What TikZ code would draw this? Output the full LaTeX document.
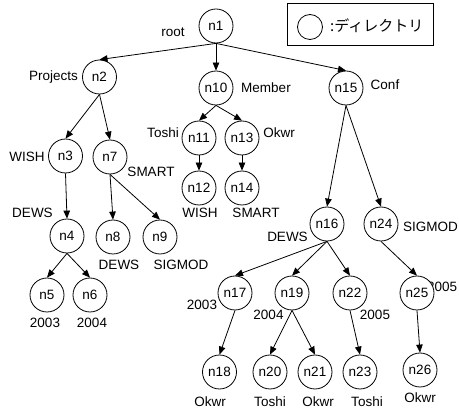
\documentclass[tikz,border=0pt]{standalone}
\usepackage{fontspec}
\setmainfont{Liberation Sans}
\newfontfamily\jpfont{Noto Sans CJK JP}
\usetikzlibrary{arrows.meta}
\begin{document}
\begin{tikzpicture}[x=1pt,y=-1pt,
  dirnode/.style={circle,draw,line width=0.8pt,fill=white,minimum size=34pt,inner sep=0pt,
    font=\fontsize{13.5}{15}\selectfont},
  lbl/.style={inner sep=0pt,font=\fontsize{13.5}{15}\selectfont},
  link/.style={line width=0.8pt,-{Triangle[length=8pt,width=6.5pt]}}]
\useasboundingbox (0,0) rectangle (459,414);

% legend
\node[draw,line width=0.8pt,minimum width=146pt,minimum height=42pt,inner sep=0pt] (legend) at (360.5,24) {};
\node[circle,draw,line width=0.8pt,minimum size=25pt,inner sep=0pt] (legcirc) at (310,27) {};
\node[anchor=west,inner sep=0pt,font=\jpfont\fontsize{15}{17}\selectfont] (legtext) at (330,26) {:ディレクトリ};

% edge labels (placed first so the circles sit on top)
\node[lbl] (l1) at (173,32) {root};
\node[lbl,anchor=east] (l2) at (78,77) {Projects};
\node[lbl] (l10) at (266,88) {Member};
\node[lbl] (l15) at (385,85) {Conf};
\node[lbl] (l11) at (163,133) {Toshi};
\node[lbl] (l13) at (279,133) {Okwr};
\node[lbl] (l3) at (27,157) {WISH};
\node[lbl] (l7) at (151,172) {SMART};
\node[lbl] (l12) at (200,213) {WISH};
\node[lbl] (l14) at (256,213) {SMART};
\node[lbl] (l4) at (32.5,213) {DEWS};
\node[lbl] (l8) at (119,265) {DEWS};
\node[lbl] (l9) at (181,265) {SIGMOD};
\node[lbl] (l16) at (287.5,237) {DEWS};
\node[lbl,anchor=west] (l24) at (403,227) {SIGMOD};
\node[lbl] (l5) at (45,323) {2003};
\node[lbl] (l6) at (92,323) {2004};
\node[lbl] (l17) at (202,305) {2003};
\node[lbl] (l19) at (268.5,315) {2004};
\node[lbl] (l22) at (375,315) {2005};
\node[lbl,anchor=west] (l25) at (427,287) {2005};
\node[lbl] (l18) at (210,402) {Okwr};
\node[lbl] (l20) at (270,402) {Toshi};
\node[lbl] (l21) at (318,402) {Okwr};
\node[lbl] (l23) at (367,402) {Toshi};
\node[lbl] (l26) at (420,398) {Okwr};

% directory nodes
\node[dirnode] (n1) at (216,26) {n1};
\node[dirnode] (n2) at (99.5,77) {n2};
\node[dirnode] (n10) at (216,88) {n10};
\node[dirnode] (n15) at (346,88) {n15};
\node[dirnode] (n3) at (65.5,156) {n3};
\node[dirnode] (n7) at (110,157) {n7};
\node[dirnode] (n11) at (199,138) {n11};
\node[dirnode] (n13) at (242,138) {n13};
\node[dirnode] (n12) at (199,188) {n12};
\node[dirnode] (n14) at (242,188) {n14};
\node[dirnode] (n4) at (67,236) {n4};
\node[dirnode] (n8) at (113,237) {n8};
\node[dirnode] (n9) at (160,237) {n9};
\node[dirnode] (n16) at (327,224) {n16};
\node[dirnode] (n24) at (381,224) {n24};
\node[dirnode] (n5) at (47,295) {n5};
\node[dirnode] (n6) at (90,295) {n6};
\node[dirnode] (n17) at (235,293) {n17};
\node[dirnode] (n19) at (292,293) {n19};
\node[dirnode] (n22) at (350,293) {n22};
\node[dirnode] (n25) at (417,293) {n25};
\node[dirnode] (n18) at (219.5,372) {n18};
\node[dirnode] (n20) at (270,372) {n20};
\node[dirnode] (n21) at (315,372) {n21};
\node[dirnode] (n23) at (360,372) {n23};
\node[dirnode] (n26) at (420,370) {n26};

% parent -> child links
\foreach \a/\b in {n1/n2,n1/n10,n1/n15,n2/n3,n2/n7,n10/n11,n10/n13,n11/n12,n13/n14,
  n3/n4,n7/n8,n7/n9,n4/n5,n4/n6,n15/n16,n15/n24,n16/n17,n16/n19,n16/n22,n24/n25,
  n17/n18,n19/n20,n19/n21,n22/n23,n25/n26}
  \draw[link] (\a.south) -- (\b.north);
\end{tikzpicture}
\end{document}
